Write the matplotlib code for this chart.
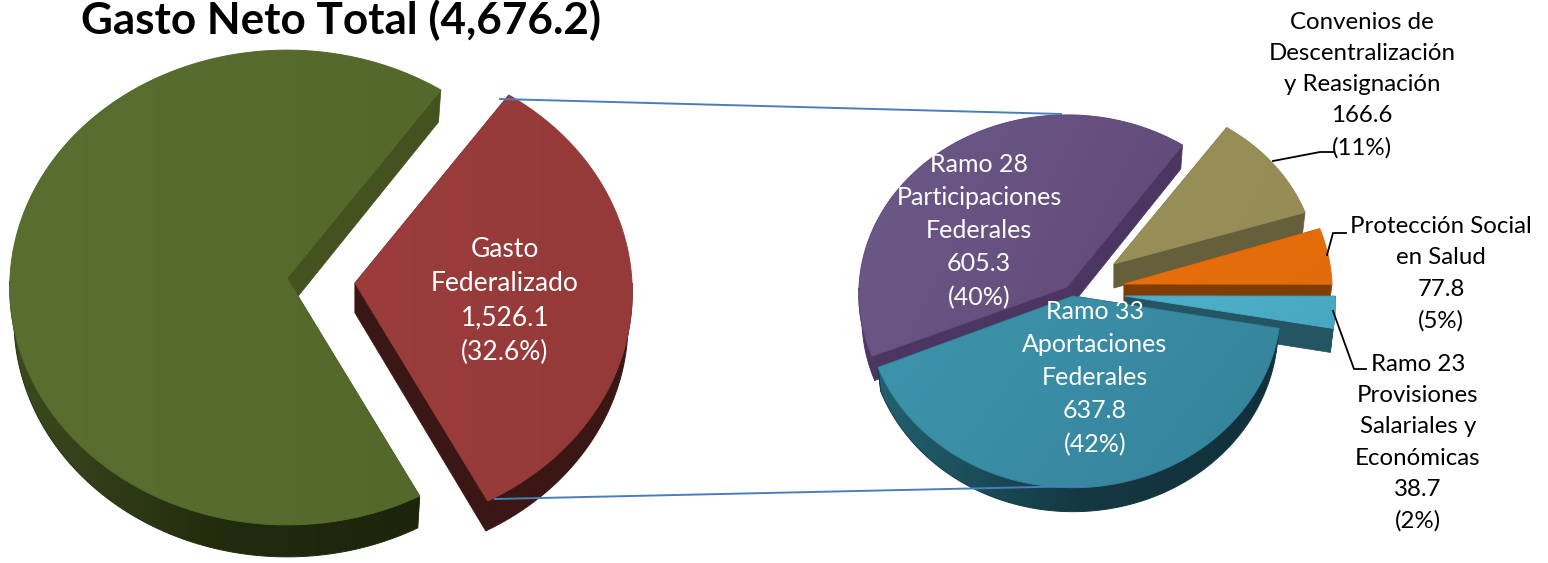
import numpy as np
from matplotlib import pyplot as plt
from matplotlib.colors import LinearSegmentedColormap
from matplotlib.patches import Polygon

plt.rcParams['font.family'] = ['Lato', 'DejaVu Sans']

# data
title = 'Gasto Neto Total (4,676.2)'
total_values = [1526.1, 3150.1]
total_pct = ['32.6%']
fed_names = ['Convenios de\nDescentralización\ny Reasignación', 'Protección Social\nen Salud',
             'Ramo 23\nProvisiones\nSalariales y\nEconómicas', 'Ramo 33\nAportaciones\nFederales',
             'Ramo 28\nParticipaciones\nFederales']
fed_values = [166.6, 77.8, 38.7, 637.8, 605.3]
fed_pct = ['11%', '5%', '2%', '42%', '40%']

W, H = 1548, 563
fig = plt.figure(figsize=(W/100, H/100), dpi=100)
ax = fig.add_axes([0, 0, 1, 1])
zz = [2]


def ellipse_pts(cx, cy, rx, ry, t, persp=0.04):
    t = np.radians(t)
    w = 1 + persp*np.sin(t)
    return cx + rx*np.cos(t)/w, cy - ry*np.sin(t)/w


def grad_poly(xy, colors, angle=0):
    # gradient fill clipped to polygon, edge stroke hides the jaggies
    xy = np.array(xy)
    x0, y0 = xy.min(axis=0)
    x1, y1 = xy.max(axis=0)
    X, Y = np.meshgrid(np.linspace(0, 1, 80), np.linspace(0, 1, 80))
    a = np.radians(angle)
    T = X*np.cos(a) + Y*np.sin(a)
    T = (T - T.min())/(T.max() - T.min())
    cmap = LinearSegmentedColormap.from_list('g', colors)
    im = ax.imshow(T, cmap=cmap, extent=[x0, x1, y1, y0], aspect='auto', zorder=zz[0], interpolation='bilinear')
    p = Polygon(xy, closed=True, transform=ax.transData, fc='none', ec='none')
    ax.add_patch(p)
    im.set_clip_path(p)
    ax.add_patch(Polygon(xy, closed=True, fc='none', ec=colors[len(colors)//2], lw=0.7, zorder=zz[0]))
    zz[0] += 1


def slice3d(cx, cy, rx, ry, a1, a2, depth, top, face, rim, top_angle=0):
    # a1 > a2, goes clockwise. lower surface a bit smaller, as in the perspective view
    t = np.linspace(a1, a2, 240)
    x, y = ellipse_pts(cx, cy, rx, ry, t)
    lx = cx + (x - cx)*0.985
    ly = y + depth
    for i in [0, -1]:
        ax.add_patch(Polygon([(cx, cy), (x[i], y[i]), (lx[i], ly[i]), (cx, cy + depth)],
                             closed=True, fc=face, ec=face, lw=0.5, zorder=zz[0]))
        zz[0] += 1
    # only the front half of the rim shows
    front = np.sin(np.radians(t)) < 0
    if front.sum() > 1:
        rim_xy = list(zip(x[front], y[front])) + list(zip(lx[front][::-1], ly[front][::-1]))
        grad_poly(rim_xy, rim, 0)
    grad_poly([(cx, cy)] + list(zip(x, y)), top, top_angle)


def sweep(values, start):
    fr = np.array(values)/np.sum(values)*360
    edges = start - np.concatenate([[0], np.cumsum(fr)])
    return edges


# left pie
e = sweep(total_values, 55)
slice3d(287, 278, 277, 237, e[1], e[2], 32, ['#5a6e30', '#546829'], '#43521f',
        ['#3d4a1e', '#222c0e', '#1c240b'], 0)
slice3d(355, 283, 277, 237, e[0], e[1], 30, ['#9a3d3c', '#953a39'], '#3a1614',
        ['#3a1614', '#3a1614'], 0)

# right pie
apex = [(1114, 264), (1124, 284), (1125, 296), (1073, 296), (1067, 287)]
rxs = [203, 208, 210, 208, 208]
rys = [172, 184, 184, 184, 179]
tops = [['#9a9159', '#948b56'], ['#e8700c', '#e26a0a'], ['#4fb0ca', '#48a8c2'],
        ['#3e95ad', '#33829a'], ['#6d5a88', '#5f4877']]
faces = ['#665f3b', '#7f3d05', '#255462', '#1c4a58', '#4a3660']
rims = [['#665f3b', '#665f3b'], ['#7f3d05', '#7f3d05'], ['#255462', '#255462'],
        ['#22606f', '#143843', '#123039'], ['#4f3a66', '#4a3660']]
# perspective squeezes the angles a little, edges moved by hand
edge_nudge = np.array([-1, 1, 1.6, 0.7, 3.7, -1])
e = sweep(fed_values, 56) + edge_nudge
for i in [0, 1, 2, 4, 3]:
    slice3d(apex[i][0], apex[i][1], rxs[i], rys[i], e[i], e[i + 1], 24, tops[i], faces[i], rims[i], 20)

# connectors
ax.plot([500, 1061], [99, 114], color='#4a7ebb', lw=1.4, zorder=50)
ax.plot([495, 1083], [499, 486], color='#4a7ebb', lw=1.4, zorder=50)
ax.plot([1273, 1320, 1333], [161, 152, 152], color='k', lw=1.3, zorder=50)
ax.plot([1327, 1333, 1346], [255, 233, 233], color='k', lw=1.3, zorder=50)
ax.plot([1333, 1354, 1366], [311, 369, 369], color='k', lw=1.3, zorder=50)

# text
ax.text(341, 20, title, ha='center', va='center', fontsize=31.7, fontweight='bold', color='k', zorder=60)
ax.text(505, 301, f'Gasto\nFederalizado\n{total_values[0]:,.1f}\n({total_pct[0]})', ha='center', va='center',
        fontsize=19, color='white', linespacing=1.45, zorder=60)
inside = {3: (1095, 378), 4: (979, 231)}
outside = {0: (1362, 85), 1: (1441, 274), 2: (1418, 443)}
for i, (x, y) in inside.items():
    ax.text(x, y, f'{fed_names[i]}\n{fed_values[i]:,.1f}\n({fed_pct[i]})', ha='center', va='center',
            fontsize=18, color='white', linespacing=1.53, zorder=60)
for i, (x, y) in outside.items():
    ax.text(x, y, f'{fed_names[i]}\n{fed_values[i]:,.1f}\n({fed_pct[i]})', ha='center', va='center',
            fontsize=17.3, color='k', linespacing=1.6, zorder=60)

ax.set_xlim(0, W)
ax.set_ylim(H, 0)
ax.axis('off')
fig.savefig('out.png', dpi=100, facecolor='white')
